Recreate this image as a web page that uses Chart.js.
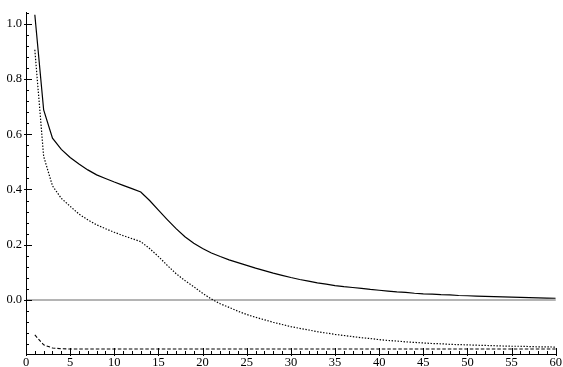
<!DOCTYPE html>
<html>
<head>
<meta charset="utf-8">
<script src="https://cdn.jsdelivr.net/npm/chart.js"></script>
<style>
  html, body { margin: 0; padding: 0; background: #fff; }
  #wrap { width: 563px; height: 367px; }
</style>
</head>
<body>
<div id="wrap"><canvas id="plot"></canvas></div>
<script>
// x = 1..60
const steps = Array.from({ length: 60 }, (_, i) => i + 1);

const solidVals = [
  1.033, 0.688, 0.586, 0.545, 0.516, 0.492, 0.471, 0.453, 0.440, 0.427,
  0.415, 0.403, 0.391, 0.360, 0.325, 0.291, 0.258, 0.229, 0.205, 0.186,
  0.170, 0.157, 0.145, 0.135, 0.125, 0.115, 0.106, 0.097, 0.089, 0.081,
  0.074, 0.068, 0.062, 0.057, 0.052, 0.048, 0.045, 0.042, 0.038, 0.035,
  0.032, 0.029, 0.027, 0.024, 0.022, 0.021, 0.019, 0.018, 0.016, 0.015,
  0.014, 0.013, 0.012, 0.011, 0.010, 0.009, 0.008, 0.007, 0.0065, 0.006
];

const dottedVals = [
  0.906, 0.520, 0.413, 0.368, 0.339, 0.311, 0.290, 0.272, 0.258, 0.245,
  0.233, 0.222, 0.211, 0.186, 0.157, 0.125, 0.095, 0.070, 0.048, 0.024,
  0.003, -0.014, -0.027, -0.041, -0.053, -0.063, -0.072, -0.081, -0.089, -0.097,
  -0.103, -0.109, -0.115, -0.120, -0.125, -0.129, -0.133, -0.137, -0.140, -0.144,
  -0.147, -0.149, -0.152, -0.154, -0.156, -0.158, -0.159, -0.161, -0.162, -0.163,
  -0.164, -0.165, -0.166, -0.167, -0.168, -0.168, -0.169, -0.170, -0.170, -0.171
];

const dashedVals = [
  -0.127, -0.163, -0.174, -0.177, -0.178, -0.178, -0.178, -0.178, -0.178, -0.178,
  -0.178, -0.178, -0.178, -0.178, -0.178, -0.178, -0.178, -0.178, -0.178, -0.178,
  -0.178, -0.178, -0.178, -0.178, -0.178, -0.178, -0.178, -0.178, -0.178, -0.178,
  -0.178, -0.178, -0.178, -0.178, -0.178, -0.178, -0.178, -0.178, -0.178, -0.178,
  -0.178, -0.178, -0.178, -0.178, -0.178, -0.178, -0.178, -0.178, -0.178, -0.178,
  -0.178, -0.178, -0.178, -0.178, -0.178, -0.178, -0.178, -0.178, -0.178, -0.178
];

const xTickLabels = [0, 5, 10, 15, 20, 25, 30, 35, 40, 45, 50, 55, 60];
const yTickLabels = [0.0, 0.2, 0.4, 0.6, 0.8, 1.0];

const X_MIN = 0, X_MAX = 60;
const Y_MIN = -0.196, Y_MAX = 1.043;

function toPoints(vals) {
  return vals.map((v, i) => ({ x: steps[i], y: v }));
}

// inward tick marks, long on labelled values, short in between
const innerTicks = {
  id: 'innerTicks',
  afterDraw(chart) {
    const { ctx, chartArea, scales } = chart;
    const xs = scales.x, ys = scales.y;
    ctx.save();
    ctx.strokeStyle = '#000';
    ctx.lineWidth = 1;
    ctx.beginPath();
    for (let v = X_MIN; v <= X_MAX; v++) {
      const px = Math.round(xs.getPixelForValue(v)) + 0.5;
      const major = v % 5 === 0;
      ctx.moveTo(px, chartArea.bottom + (major ? 2 : 0));
      ctx.lineTo(px, chartArea.bottom - (major ? 6 : 3));
    }
    for (let k = -4; k <= 26; k++) {
      const v = k * 0.04;
      if (v < Y_MIN || v > Y_MAX) continue;
      const py = Math.round(ys.getPixelForValue(v)) + 0.5;
      const major = k % 5 === 0;
      ctx.moveTo(chartArea.left - (major ? 2 : 0), py);
      ctx.lineTo(chartArea.left + (major ? 6 : 3), py);
    }
    ctx.stroke();
    ctx.restore();
  }
};

const labelFont = { family: '"Liberation Serif", "DejaVu Serif", serif', size: 12.5 };

new Chart(document.getElementById('plot'), {
  type: 'line',
  data: {
    datasets: [
      {
        data: toPoints(solidVals),
        borderColor: '#000',
        borderWidth: 1.2,
        pointRadius: 0,
        tension: 0
      },
      {
        data: toPoints(dottedVals),
        borderColor: '#000',
        borderWidth: 1.2,
        borderDash: [1.4, 1.6],
        pointRadius: 0,
        tension: 0
      },
      {
        data: toPoints(dashedVals),
        borderColor: '#000',
        borderWidth: 1.1,
        borderDash: [3.5, 2],
        pointRadius: 0,
        tension: 0
      }
    ]
  },
  options: {
    responsive: true,
    maintainAspectRatio: false,
    animation: false,
    events: [],
    layout: { padding: { top: 12, right: 7, left: 0, bottom: 0 } },
    plugins: {
      legend: { display: false },
      tooltip: { enabled: false }
    },
    scales: {
      x: {
        type: 'linear',
        min: X_MIN,
        max: X_MAX,
        afterBuildTicks(scale) {
          scale.ticks = xTickLabels.map(v => ({ value: v }));
        },
        afterFit(scale) { scale.height = 13; },
        ticks: {
          font: labelFont,
          color: '#000',
          padding: 1,
          maxRotation: 0,
          autoSkip: false,
          callback: v => String(v)
        },
        grid: { display: false, drawTicks: false },
        border: { display: true, color: '#000', width: 1 }
      },
      y: {
        type: 'linear',
        min: Y_MIN,
        max: Y_MAX,
        afterBuildTicks(scale) {
          scale.ticks = yTickLabels.map(v => ({ value: v }));
        },
        afterFit(scale) { scale.width = 26; },
        ticks: {
          font: labelFont,
          color: '#000',
          padding: 4,
          autoSkip: false,
          callback: v => v.toFixed(1)
        },
        grid: {
          drawTicks: false,
          color: ctx => (ctx.tick && ctx.tick.value === 0 ? '#b4b4b4' : 'rgba(0,0,0,0)'),
          lineWidth: ctx => (ctx.tick && ctx.tick.value === 0 ? 2 : 0)
        },
        border: { display: true, color: '#000', width: 1 }
      }
    }
  },
  plugins: [innerTicks]
});
</script>
</body>
</html>
